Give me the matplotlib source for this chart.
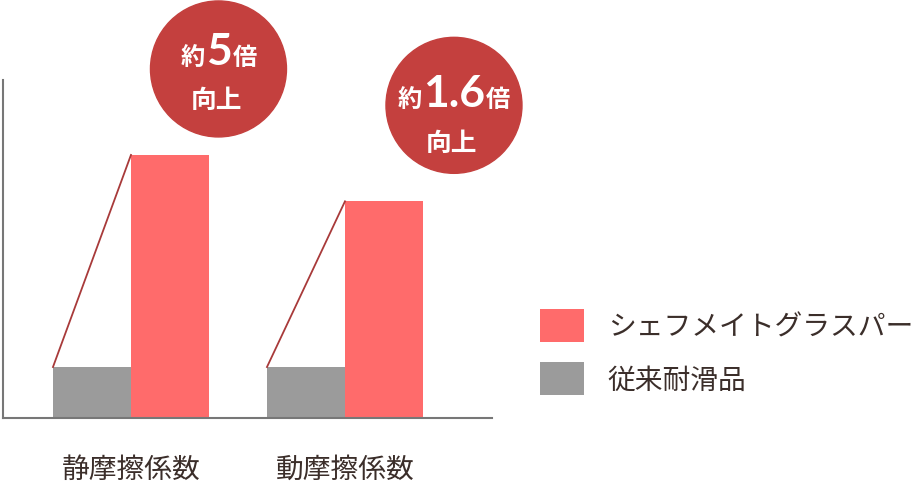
import matplotlib.pyplot as plt
import matplotlib.patches as mpatches
import numpy as np

plt.rcParams['font.family'] = ['Noto Sans CJK JP', 'DejaVu Sans']

categories = ['静摩擦係数', '動摩擦係数']
series_names = ['シェフメイトグラスパー', '従来耐滑品']
grasper = [5.16, 4.25]
conventional = [1.0, 1.0]
callout_lead = ['約', '約']
callout_num = ['5', '1.6']
callout_tail = ['倍', '倍']
callout_sub = ['向上', '向上']

red = '#ff6b6b'
grey = '#9b9b9b'
badge = '#c4403e'
link = '#a83a3a'
ink = '#3b2e2a'

fig = plt.figure(figsize=(9.14, 4.85), dpi=100)
ax = fig.add_axes([3 / 914, 1 - 419 / 485, 489 / 914, 338 / 485])

x = np.arange(len(categories))
w = 0.3645
b_old = ax.bar(x - w / 2, conventional, w, color=grey, label=series_names[1])
b_new = ax.bar(x + w / 2, grasper, w, color=red, label=series_names[0])
# slanted line from old bar corner to new bar corner
for i in range(len(x)):
    ax.plot([x[i] - w, x[i]], [conventional[i], grasper[i]], color=link, lw=1.3, zorder=3)

ax.set_xlim(-0.598, 1.687)
ax.set_ylim(0, 6.63)
ax.set_yticks([])
ax.set_xticks(x, categories)
ax.tick_params(axis='x', length=0, pad=26, labelsize=20, labelcolor=ink)
for s in ['top', 'right']:
    ax.spines[s].set_visible(False)
for s in ['left', 'bottom']:
    ax.spines[s].set_color('#777777')
    ax.spines[s].set_linewidth(1.5)

# legend: new product first
fig.legend([b_new, b_old], series_names, loc='upper left',
           bbox_to_anchor=(540 / 914, 1 - 310 / 485), frameon=False,
           fontsize=20, labelcolor=ink, borderpad=0, borderaxespad=0,
           handlelength=1.58, handleheight=1.44, handletextpad=0.86,
           labelspacing=0.72)

# callout badges in pixel space
ov = fig.add_axes([0, 0, 1, 1])
ov.set_xlim(0, 914)
ov.set_ylim(0, 485)
ov.axis('off')
offsets = [(48.5, 86), (70, 96)]
line1_shift = [5, -1]
line2_shift = [-31, -37]
renderer = fig.canvas.get_renderer()
for i in range(len(x)):
    px, py = ax.transData.transform((x[i] + w / 2, grasper[i]))
    cx, cy = px + offsets[i][0], py + offsets[i][1]
    ov.add_patch(mpatches.Circle((cx, cy), 68, color=badge, zorder=1))
    parts = [(callout_lead[i], 17.5, 'Noto Sans CJK JP'),
             (callout_num[i], 32, 'Lato'),
             (callout_tail[i], 17.5, 'Noto Sans CJK JP')]
    texts = [ov.text(0, cy + line1_shift[i], s, fontsize=fs, family=fam, color='white',
                     fontweight='bold', ha='left', va='baseline', zorder=2)
             for s, fs, fam in parts]
    widths = [t.get_window_extent(renderer).width for t in texts]
    gap = 1
    xx = cx - (sum(widths) + gap * (len(texts) - 1)) / 2
    for t, wd in zip(texts, widths):
        t.set_x(xx)
        xx += wd + gap
    ov.text(cx - 2, cy + line2_shift[i], callout_sub[i], fontsize=18.5, color='white',
            fontweight='bold', ha='center', va='center', zorder=2)

fig.savefig('out.png', dpi=100)
